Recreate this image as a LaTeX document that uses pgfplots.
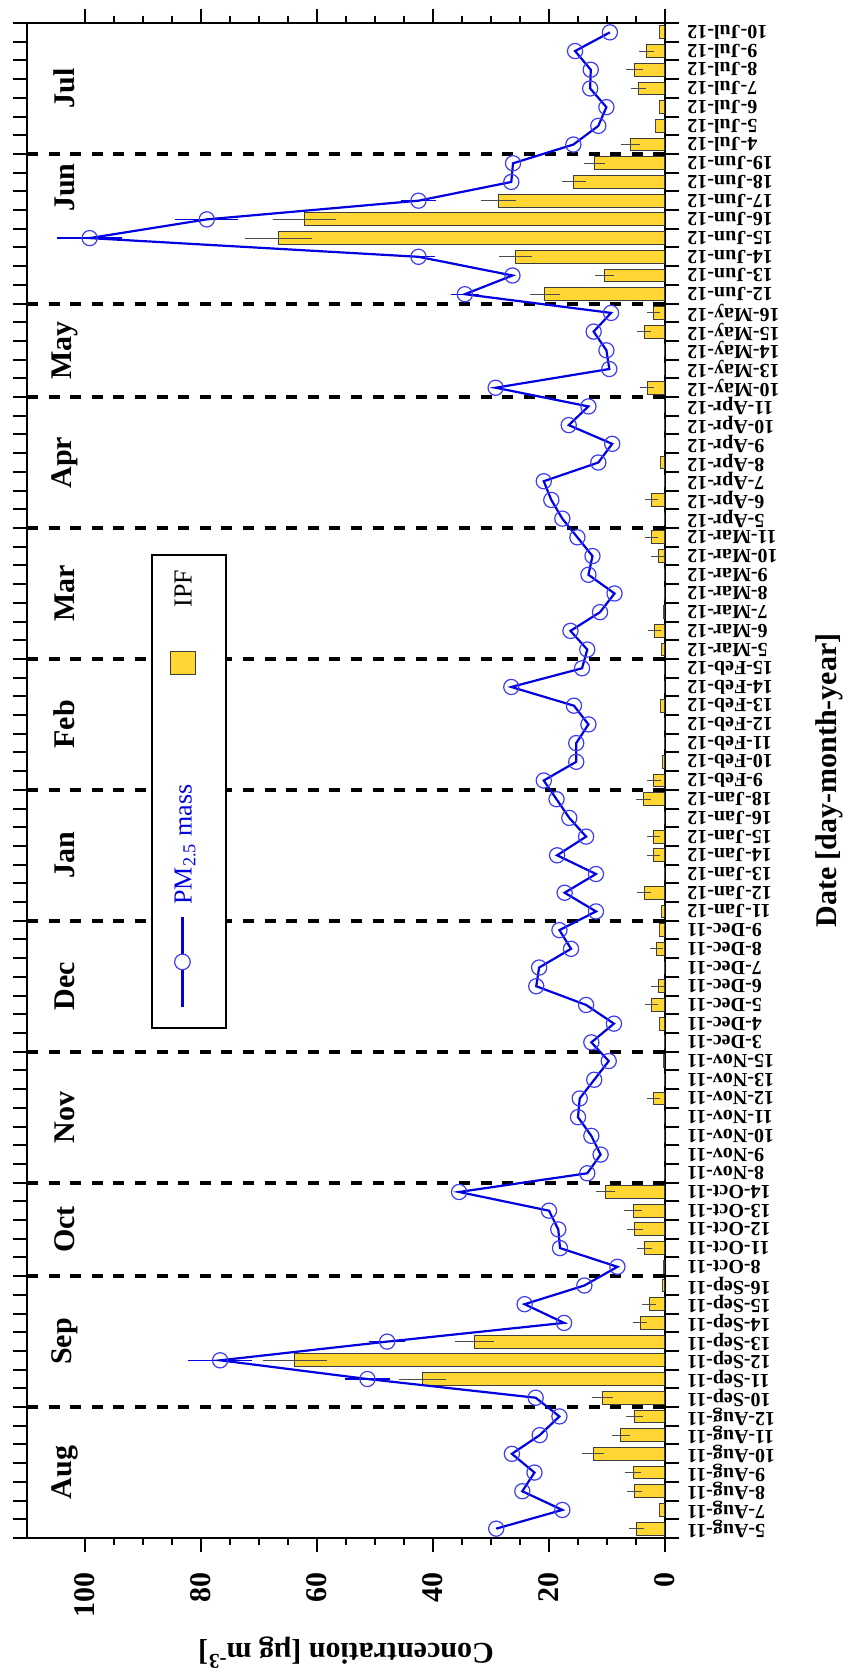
\documentclass[border=0pt]{standalone}
\usepackage{pgfplots}
\pgfplotsset{compat=1.18}
\usepackage{pgfplotstable}
\usepackage{fontspec}
\setmainfont{Liberation Serif}
\definecolor{ipf}{RGB}{255,214,51}
\definecolor{pmblue}{RGB}{0,0,225}
\definecolor{mkblue}{RGB}{60,60,245}
\definecolor{bardraw}{RGB}{60,60,60}

\pgfplotstableread{
y ipf ipferr pm pmerr
0 4.9 0.3 29.1 0
1 0.9 0 17.7 0
2 5.3 0.3 24.6 0
3 5.5 0.4 22.5 0
4 12.4 0.8 26.4 0
5 7.6 0.5 21.6 0
6 5.3 0.4 18.2 0
7 10.8 0.8 22.3 0
8 41.8 3.0 51.3 2.9
9 63.8 4.5 76.7 4.5
10 32.9 2.3 47.9 2.1
11 4.3 0.2 17.4 0
12 2.7 0.2 24.2 0
13 0.4 0 13.9 0
14 0.3 0 8.2 0
15 3.5 0.3 18.1 0
16 5.2 0.4 18.4 0
17 5.5 0.5 20.0 0
18 10.2 0.6 35.5 0
19 0 0 13.4 0
20 0 0 11.1 0
21 0.1 0 12.7 0
22 0 0 15.0 0
23 2.0 0.1 14.7 0
24 0 0 12.2 0
25 0.2 0 9.7 0
26 0.1 0 12.7 0
27 1.0 0 8.8 0
28 2.3 0.1 13.6 0
29 1.2 0.1 22.2 0
30 0 0 21.7 0
31 1.4 0.1 16.2 0
32 0.9 0 18.2 0
33 0.6 0 11.9 0
34 3.6 0.2 17.3 0
35 0 0 11.9 0
36 2.0 0.1 18.6 0
37 2.0 0.1 13.6 0
38 0 0 16.5 0
39 3.7 0.2 18.7 0
40 1.9 0.1 20.9 0
41 0.5 0 15.3 0
42 0 0 15.3 0
43 0 0 13.2 0
44 0.7 0 15.7 0
45 0 0 26.5 0
46 0 0 14.3 0
47 0.6 0 13.4 0
48 1.8 0.1 16.3 0
49 0.2 0 11.2 0
50 0 0 8.7 0
51 0 0 13.2 0
52 1.2 0.1 12.5 0
53 2.3 0.1 15.1 0
54 0 0 17.7 0
55 2.3 0.1 19.6 0
56 0 0 20.9 0
57 0.7 0 11.5 0
58 0 0 9.1 0
59 0 0 16.6 0
60 0 0 13.2 0
61 3.1 0.2 29.2 0
62 0 0 9.6 0
63 0 0 10.1 0
64 3.6 0.15 12.3 0
65 2.0 0.1 9.3 0
66 20.7 1.5 34.5 1.4
67 10.4 0.6 26.3 0
68 25.8 1.8 42.5 1.8
69 66.6 4.7 99.2 4.6
70 62.1 4.4 79.0 4.4
71 28.7 2.0 42.5 1.9
72 15.7 1.05 26.5 0
73 12.2 0.75 26.2 0
74 5.9 0.6 15.8 0
75 1.6 0 11.5 0
76 1.0 0 10.1 0
77 4.6 0.3 12.9 0
78 5.3 0.4 12.8 0
79 3.2 0.3 15.5 0
80 1.0 0 9.5 0
}\datatable

\pgfplotstableread{
y pm pmerr
8 51.3 2.9
9 76.7 4.5
10 47.9 2.1
66 34.5 1.4
68 42.5 1.8
69 99.2 4.6
70 79.0 4.4
71 42.5 1.9
}\pmerrtable

\newcommand{\bigfont}{\bfseries\fontsize{15}{18}\selectfont}

\begin{document}
\begin{tikzpicture}
\path[use as bounding box] (-13.5pt,-69.5pt) rectangle (410.5pt,769pt);
\begin{axis}[
  at={(0,0)}, anchor=south west,
  scale only axis, width=319pt, height=757.5pt,
  x dir=reverse, xmin=0, xmax=110, ymin=-0.5, ymax=80.5,
  xtick={0,20,...,100}, minor x tick num=3,
  ytick={-0.5,0.5,...,80.5}, yticklabels={},
  extra y ticks={0,1,...,80},
  extra y tick labels={5-Aug-11,7-Aug-11,8-Aug-11,9-Aug-11,10-Aug-11,11-Aug-11,12-Aug-11,
10-Sep-11,11-Sep-11,12-Sep-11,13-Sep-11,14-Sep-11,15-Sep-11,16-Sep-11,
8-Oct-11,11-Oct-11,12-Oct-11,13-Oct-11,14-Oct-11,
8-Nov-11,9-Nov-11,10-Nov-11,11-Nov-11,12-Nov-11,13-Nov-11,15-Nov-11,
3-Dec-11,4-Dec-11,5-Dec-11,6-Dec-11,7-Dec-11,8-Dec-11,9-Dec-11,
11-Jan-12,12-Jan-12,13-Jan-12,14-Jan-12,15-Jan-12,16-Jan-12,18-Jan-12,
9-Feb-12,10-Feb-12,11-Feb-12,12-Feb-12,13-Feb-12,14-Feb-12,15-Feb-12,
5-Mar-12,6-Mar-12,7-Mar-12,8-Mar-12,9-Mar-12,10-Mar-12,11-Mar-12,
5-Apr-12,6-Apr-12,7-Apr-12,8-Apr-12,9-Apr-12,10-Apr-12,11-Apr-12,
10-May-12,13-May-12,14-May-12,15-May-12,16-May-12,
12-Jun-12,13-Jun-12,14-Jun-12,15-Jun-12,16-Jun-12,17-Jun-12,18-Jun-12,19-Jun-12,
4-Jul-12,5-Jul-12,6-Jul-12,7-Jul-12,8-Jul-12,9-Jul-12,10-Jul-12},
  extra y tick style={major tick length=0pt, tick style={draw=none}, yticklabel shift=11pt},
  tick align=outside, tick pos=both,
  xticklabel pos=lower, yticklabel pos=right,
  major tick length=7.2pt, minor tick length=3.5pt,
  axis line style={line width=1pt},
  tick style={line width=1pt, black},
  xticklabel style={rotate=90, anchor=east, inner sep=0pt, font=\bigfont},
  xticklabel shift=9.8pt,
  /pgf/number format/assume math mode=true,
  yticklabel style={rotate=180, anchor=east, inner sep=0pt, font=\bfseries\fontsize{10}{11}\selectfont},
  xlabel={Concentration [µg m\textsuperscript{-3}]},
  xlabel style={at={(axis description cs:0.5,-0.0653)}, anchor=south, rotate=180, inner sep=0pt, font=\bigfont},
  ylabel={Date [day-month-year]},
  ylabel style={at={(axis description cs:1.235,0.5)}, anchor=north, inner sep=0pt, font=\bigfont},
]
\addplot[xbar, bar width=6.4pt, fill=ipf, draw=bardraw, line width=0.5pt, forget plot,
  error bars/.cd, x dir=both, x explicit,
  error bar style={draw=black!70, line width=0.5pt},
  error mark options={draw=black!70, mark size=3pt, line width=0.5pt}]
  table[x=ipf, y=y, x error=ipferr] {\datatable};
\addplot[black, line width=2pt, dash pattern=on 5.5pt off 5.3pt, forget plot] coordinates {(110,73.5) (0,73.5)};
\addplot[black, line width=2pt, dash pattern=on 5.5pt off 5.3pt, forget plot] coordinates {(110,65.5) (0,65.5)};
\addplot[black, line width=2pt, dash pattern=on 5.5pt off 5.3pt, forget plot] coordinates {(110,60.5) (0,60.5)};
\addplot[black, line width=2pt, dash pattern=on 5.5pt off 5.3pt, forget plot] coordinates {(110,53.5) (0,53.5)};
\addplot[black, line width=2pt, dash pattern=on 5.5pt off 5.3pt, forget plot] coordinates {(110,46.5) (0,46.5)};
\addplot[black, line width=2pt, dash pattern=on 5.5pt off 5.3pt, forget plot] coordinates {(110,39.5) (0,39.5)};
\addplot[black, line width=2pt, dash pattern=on 5.5pt off 5.3pt, forget plot] coordinates {(110,32.5) (0,32.5)};
\addplot[black, line width=2pt, dash pattern=on 5.5pt off 5.3pt, forget plot] coordinates {(110,25.5) (0,25.5)};
\addplot[black, line width=2pt, dash pattern=on 5.5pt off 5.3pt, forget plot] coordinates {(110,18.5) (0,18.5)};
\addplot[black, line width=2pt, dash pattern=on 5.5pt off 5.3pt, forget plot] coordinates {(110,13.5) (0,13.5)};
\addplot[black, line width=2pt, dash pattern=on 5.5pt off 5.3pt, forget plot] coordinates {(110,6.5) (0,6.5)};
\addplot[draw=none, mark=none, forget plot,
  error bars/.cd, x dir=both, x explicit,
  error bar style={draw=pmblue, line width=0.6pt},
  error mark options={draw=pmblue, mark size=3pt, line width=0.6pt}]
  table[x=pm, y=y, x error=pmerr] {\pmerrtable};
\addplot[pmblue, line width=1.1pt, mark=o, mark size=3.8pt, forget plot,
  mark options={solid, fill=white, draw=mkblue, line width=0.6pt}]
  table[x=pm, y=y] {\datatable};
% legend (rotated, as in the reference)
\fill[white] (axis cs:88.5,52.07) rectangle (axis cs:75.7,26.78);
\draw[line width=1pt] (axis cs:88.5,52.07) rectangle (axis cs:75.7,26.78);
\draw[pmblue, line width=1.1pt] (axis cs:83.2,32.71) -- (axis cs:83.2,27.9);
\draw[mkblue, fill=white, line width=0.6pt] (axis cs:83.2,30.3) circle (3.9pt);
\node[rotate=90, anchor=base west, inner sep=0pt, text=pmblue, font=\fontsize{13}{15}\selectfont] at (axis cs:81.6,33.35) {PM\textsubscript{2.5} mass};
\draw[fill=ipf, draw=bardraw, line width=0.5pt] (axis cs:85.3,46.9) rectangle (axis cs:81.0,45.65);
\node[rotate=90, anchor=base west, inner sep=0pt, font=\fontsize{13}{15}\selectfont] at (axis cs:81.6,49.24) {IPF};
% month labels
\node[rotate=90, font=\bigfont] at (axis cs:103.5,3) {Aug};
\node[rotate=90, font=\bigfont] at (axis cs:103.5,10) {Sep};
\node[rotate=90, font=\bigfont] at (axis cs:103.5,16) {Oct};
\node[rotate=90, font=\bigfont] at (axis cs:103.5,22) {Nov};
\node[rotate=90, font=\bigfont] at (axis cs:103.5,29) {Dec};
\node[rotate=90, font=\bigfont] at (axis cs:103.5,36) {Jan};
\node[rotate=90, font=\bigfont] at (axis cs:103.5,43) {Feb};
\node[rotate=90, font=\bigfont] at (axis cs:103.5,50) {Mar};
\node[rotate=90, font=\bigfont] at (axis cs:103.5,57) {Apr};
\node[rotate=90, font=\bigfont] at (axis cs:103.5,63) {May};
\node[rotate=90, font=\bigfont] at (axis cs:103.5,71.7) {Jun};
\node[rotate=90, font=\bigfont] at (axis cs:103.5,77) {Jul};
\end{axis}
\end{tikzpicture}
\end{document}
